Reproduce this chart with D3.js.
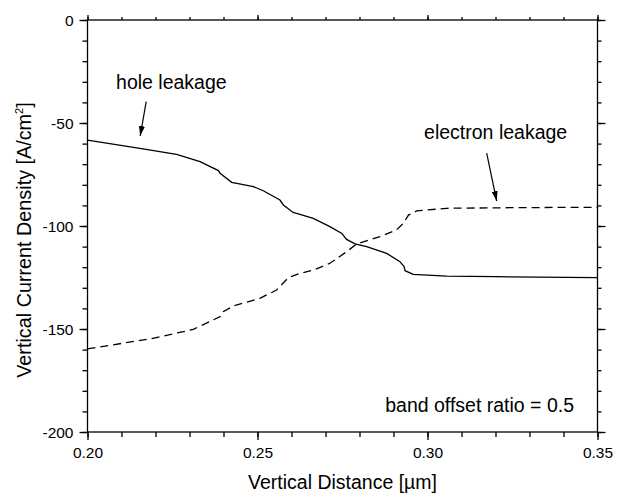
<!DOCTYPE html>
<html><head><meta charset="utf-8">
<script src="https://cdn.jsdelivr.net/npm/d3@7"></script>
<style>body{margin:0;background:#fff}svg{display:block}text{font-family:"Liberation Sans",Arial,sans-serif;fill:#000}</style>
</head><body><svg id="c" width="624" height="495"></svg>
<script>
// data
const holeX = [0.2000,0.2154,0.2262,0.2331,0.2385,0.2390,0.2424,0.2454,0.2488,0.2517,0.2566,0.2576,0.2605,0.2625,0.2664,0.2713,0.2748,0.2762,0.2787,0.2821,0.2880,0.2919,0.2931,0.2934,0.2958,0.3056,0.3200,0.3500];
const holeY = [-58.3,-62.3,-65.2,-68.8,-73.1,-74.4,-78.8,-79.8,-80.9,-82.9,-87.4,-89.8,-93.4,-94.3,-96.3,-100.3,-103.6,-106.5,-108.7,-110.0,-113.3,-117.3,-119.7,-121.7,-123.5,-124.3,-124.6,-125.1];
const elecX = [0.2000,0.2193,0.2311,0.2390,0.2399,0.2429,0.2507,0.2556,0.2591,0.2625,0.2664,0.2713,0.2762,0.2792,0.2860,0.2909,0.2929,0.2944,0.2968,0.3056,0.3252,0.3500];
const elecY = [-159.7,-154.5,-150.2,-144.0,-141.6,-138.8,-135.1,-131.1,-125.0,-123.0,-121.4,-118.1,-112.5,-108.7,-105.2,-101.9,-98.7,-94.7,-92.7,-91.4,-91.1,-90.9];
const xTicks = [0.20,0.25,0.30,0.35];
const yTicks = [0,-50,-100,-150,-200];
const labels = ["hole leakage","electron leakage","band offset ratio = 0.5"];

const svg = d3.select("#c");
const L=87.5,R=597.5,T=20,B=432;
const x = d3.scaleLinear().domain([0.20,0.35]).range([L,R]);
const y = d3.scaleLinear().domain([-200,0]).range([B,T]);
const xMinor = d3.range(0.20,0.3501,0.01).map(v=>+v.toFixed(2));
const yMinor = d3.range(-200,1,10);

function ax(gen, tr, vals, size, fmt){
  const g = svg.append("g").attr("transform",tr).call(gen.tickValues(vals).tickSize(size).tickFormat(fmt));
  g.select(".domain").remove();
  g.selectAll("line").attr("stroke","#000").attr("stroke-width",1.3);
  g.selectAll("text").style("font-size","15.5px").style("font-family","'Liberation Sans',Arial,sans-serif").attr("fill","#000");
  return g;
}
const none = ()=>"";
ax(d3.axisBottom(x),`translate(0,${B})`,xMinor,5,none);
ax(d3.axisTop(x),`translate(0,${T})`,xMinor,3,none);
ax(d3.axisLeft(y),`translate(${L},0)`,yMinor,5,none);
ax(d3.axisRight(y),`translate(${R},0)`,yMinor,4,none);
const gb = ax(d3.axisBottom(x),`translate(0,${B})`,xTicks,8,d3.format(".2f"));
gb.selectAll("text").attr("y",26).attr("dy",0);
const gl = ax(d3.axisLeft(y),`translate(${L},0)`,yTicks,8,d=>String(d).replace("\u2212","-"));
gl.selectAll("text").attr("x",-14).attr("dy","0.35em");
ax(d3.axisTop(x),`translate(0,${T})`,xTicks,5,none);
ax(d3.axisRight(y),`translate(${R},0)`,yTicks,8,none);

svg.append("rect").attr("x",L).attr("y",T).attr("width",R-L).attr("height",B-T)
  .attr("fill","none").attr("stroke","#000").attr("stroke-width",1.3);

const line = d3.line().x(d=>x(d[0])).y(d=>y(d[1]));
svg.append("path").datum(holeX.map((v,i)=>[v,holeY[i]])).attr("d",line)
  .attr("fill","none").attr("stroke","#000").attr("stroke-width",1.3);
svg.append("path").datum(elecX.map((v,i)=>[v,elecY[i]])).attr("d",line)
  .attr("fill","none").attr("stroke","#000").attr("stroke-width",1.3).attr("stroke-dasharray","8,5");

// axis titles
svg.append("text").attr("x",(L+R)/2).attr("y",489).attr("text-anchor","middle").style("font-size","19.5px")
  .text("Vertical Distance [\u00b5m]");
const yt = svg.append("text").attr("transform",`translate(31,${(T+B)/2+14}) rotate(-90)`)
  .attr("text-anchor","middle").style("font-size","19.8px");
yt.append("tspan").text("Vertical Current Density [A/cm");
yt.append("tspan").attr("dy",-8).style("font-size","11px").text("2");
yt.append("tspan").attr("dy",8).text("]");

// annotations
svg.append("defs").append("marker").attr("id","ah").attr("viewBox","0 0 10 6").attr("refX",10).attr("refY",3)
  .attr("markerWidth",10).attr("markerHeight",6).attr("markerUnits","userSpaceOnUse").attr("orient","auto")
  .append("path").attr("d","M0,0L10,3L0,6Z").attr("fill","#000");
svg.append("text").attr("x",x(0.2084)).attr("y",y(-33.6)).style("font-size","19.5px").text(labels[0]);
svg.append("text").attr("x",x(0.2990)).attr("y",y(-57.8)).style("font-size","19.5px").text(labels[1]);
svg.append("text").attr("x",x(0.3431)).attr("y",y(-190.3)).attr("text-anchor","end").style("font-size","19.5px").text(labels[2]);
const arrows = [[0.21726,-39.6,0.21550,-56.3],[0.31741,-64.6,0.32035,-87.9]];
arrows.forEach(a=>svg.append("line").attr("x1",x(a[0])).attr("y1",y(a[1])).attr("x2",x(a[2])).attr("y2",y(a[3]))
  .attr("stroke","#000").attr("stroke-width",1.2).attr("marker-end","url(#ah)"));
</script></body></html>
